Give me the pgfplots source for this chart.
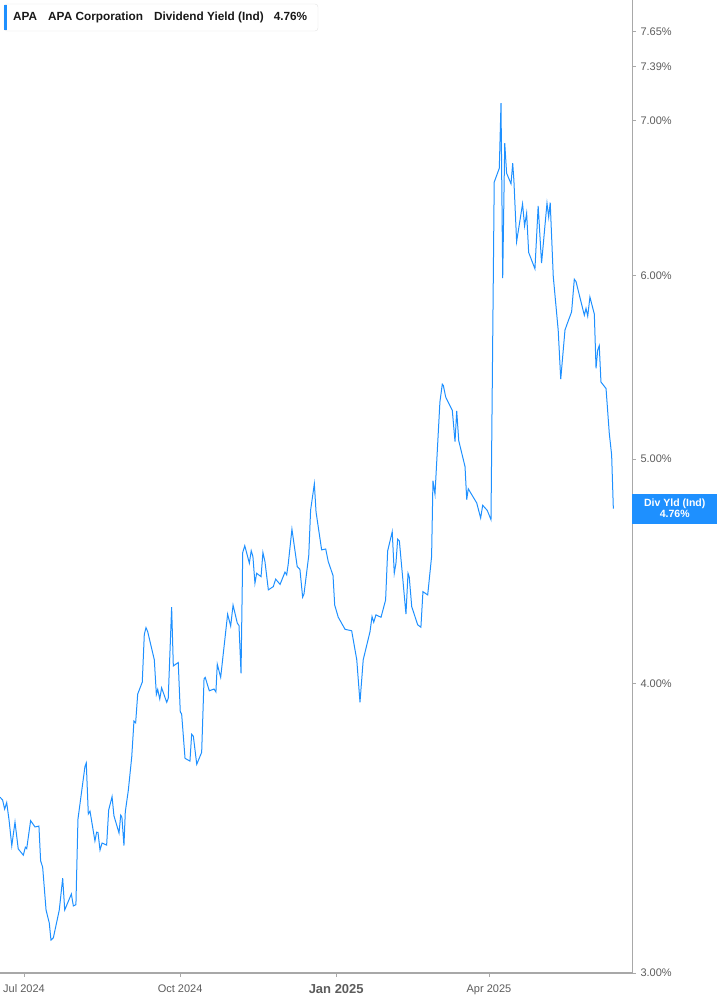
\documentclass[border=0pt]{standalone}
\usepackage{fontspec}
\setmainfont{Liberation Sans}
\usepackage{pgfplots}
\pgfplotsset{compat=1.18}
\definecolor{apablue}{HTML}{1E90FF}
\definecolor{tickgray}{HTML}{5C5C5C}
\definecolor{axisgray}{HTML}{A8A8A8}
\definecolor{boxgray}{HTML}{E3E3E3}

\begin{document}
\begin{tikzpicture}[x=1pt,y=1pt]
\begin{axis}[
  at={(0,0)}, anchor=north west,
  scale only axis, width=632pt, height=973pt,
  ymode=log, ymin=3, ymax=7.895,
  xmin=-14.14, xmax=358.3,
  axis x line*=bottom, axis y line*=right,
  x axis line style={axisgray, line width=1.6pt},
  y axis line style={axisgray, line width=1pt},
  tick align=outside,
  major tick length=4pt,
  tick style={axisgray, line width=0.8pt},
  minor tick num=0,
  xtick={0,92,184,274},
  xticklabels={Jul 2024, Oct 2024, {\raisebox{-2pt}{\bfseries\fontsize{13}{13}\selectfont Jan 2025}}, Apr 2025},
  ytick={3,4,5,6,7,7.39,7.65},
  yticklabels={3.00\%,4.00\%,5.00\%,6.00\%,7.00\%,7.39\%,7.65\%},
  yticklabel style={anchor=west, xshift=1pt, font=\fontsize{11}{11}\selectfont, text=tickgray},
  xticklabel style={yshift=-4pt, font=\fontsize{11}{11}\selectfont, text=tickgray},
  log ticks with fixed point,
]
\addplot[apablue, line width=1pt] coordinates {
(-14.1,3.573) (-12.6,3.563) (-11.4,3.531) (-10.2,3.554) (-8.8,3.493)
(-7.2,3.405) (-5.3,3.486) (-3.4,3.394) (-0.4,3.373) (0.8,3.400)
(1.6,3.395) (3.9,3.491) (6.5,3.469) (8.8,3.472) (9.8,3.354)
(11.0,3.333) (13.0,3.194) (14.9,3.153) (15.9,3.100) (17.3,3.107)
(20.8,3.194) (22.8,3.297) (24.0,3.194) (27.9,3.245) (29.1,3.207)
(30.6,3.211) (31.8,3.496) (35.9,3.683) (36.7,3.697) (37.9,3.514)
(38.9,3.524) (41.8,3.421) (42.8,3.451) (43.6,3.450) (44.8,3.390)
(46.0,3.414) (48.7,3.407) (49.9,3.528) (51.9,3.575) (53.0,3.508)
(56.0,3.448) (57.0,3.510) (57.7,3.503) (58.9,3.405) (59.7,3.522)
(61.5,3.599) (63.5,3.720) (64.8,3.854) (65.8,3.848) (67.0,3.959)
(69.7,4.006) (70.9,4.201) (71.9,4.229) (72.9,4.212) (76.8,4.096)
(78.0,3.958) (78.8,3.978) (80.0,3.940) (81.1,3.984) (84.1,3.927)
(85.0,3.942) (87.0,4.316) (88.0,4.071) (90.9,4.085) (92.1,3.890)
(92.9,3.882) (94.9,3.714) (97.8,3.704) (98.8,3.804) (99.8,3.797)
(101.8,3.692) (104.7,3.736) (106.1,4.019) (106.8,4.025) (109.2,3.972)
(112.0,3.979) (113.1,3.968) (113.9,4.078) (115.9,4.025) (120.0,4.286)
(121.8,4.236) (123.2,4.325) (125.7,4.248) (126.7,4.238) (127.9,4.041)
(128.9,4.557) (130.1,4.588) (132.8,4.509) (133.9,4.565) (134.9,4.539)
(136.1,4.420) (137.1,4.464) (139.7,4.449) (140.8,4.557) (142.0,4.516)
(144.0,4.391) (146.9,4.405) (148.3,4.438) (150.9,4.415) (153.8,4.469)
(154.8,4.457) (155.7,4.504) (157.9,4.664) (161.0,4.494) (162.6,4.482)
(164.2,4.359) (165.0,4.373) (167.8,4.543) (168.9,4.753) (171.1,4.879)
(172.1,4.745) (175.4,4.569) (177.8,4.573) (179.3,4.516) (182.1,4.454)
(183.1,4.325) (185.2,4.273) (189.2,4.222) (193.1,4.216) (196.1,4.096)
(198.0,3.927) (199.9,4.096) (203.9,4.212) (205.1,4.276) (206.1,4.252)
(207.4,4.283) (210.4,4.273) (213.1,4.347) (214.3,4.564) (217.0,4.652)
(218.2,4.464) (219.2,4.509) (220.2,4.618) (221.2,4.610) (225.1,4.286)
(226.3,4.464) (227.0,4.449) (228.5,4.318) (232.0,4.241) (233.9,4.231)
(235.1,4.383) (237.9,4.369) (240.2,4.539) (241.0,4.894) (242.2,4.829)
(245.1,5.293) (246.5,5.387) (247.1,5.381) (248.5,5.319) (252.4,5.249)
(254.0,5.088) (255.0,5.246) (256.2,5.093) (259.9,4.963) (260.9,4.803)
(261.8,4.855) (266.8,4.787) (269.1,4.716) (270.3,4.776) (273.0,4.752)
(275.2,4.708) (277.1,6.586) (280.1,6.678) (281.1,7.124) (282.1,5.986)
(283.3,6.846) (284.4,6.645) (287.0,6.575) (288.0,6.711) (288.7,6.597)
(290.3,6.208) (293.8,6.445) (295.0,6.305) (296.2,6.386) (297.4,6.141)
(301.1,6.042) (303.0,6.432) (305.0,6.076) (308.2,6.450) (309.2,6.361)
(310.1,6.454) (311.9,5.996) (314.8,5.685) (316.3,5.414) (318.8,5.685)
(319.8,5.713) (322.7,5.789) (324.3,5.980) (325.3,5.966) (330.2,5.770)
(331.2,5.809) (332.2,5.764) (333.5,5.875) (336.1,5.776) (337.1,5.473)
(338.1,5.574) (339.0,5.598) (340.0,5.399) (343.0,5.364) (344.9,5.131)
(346.3,5.021) (347.3,4.760)
};
\coordinate (tag) at (axis cs:358.3,4.76);
\end{axis}
% current value tag
\node[fill=apablue, text=white, font=\bfseries\fontsize{10.5}{11}\selectfont,
  align=center, anchor=west, minimum width=85pt, minimum height=30pt,
  inner sep=0pt] at (tag) {Div Yld (Ind)\\4.76\%};
% legend box
\draw[boxgray, rounded corners=3pt, fill=white] (4,-4) rectangle (318,-31);
\fill[apablue] (4,-5) rectangle (7,-30);
\node[anchor=west, inner sep=0pt, text=black!90,
  font=\bfseries\fontsize{11.8}{12}\selectfont] at (13,-17.5)
  {APA\hspace{11pt}APA Corporation\hspace{11pt}Dividend Yield (Ind)\hspace{10pt}4.76\%};
\pgfresetboundingbox
\path[use as bounding box] (0,0) rectangle (717,-1005);
\end{tikzpicture}
\end{document}
